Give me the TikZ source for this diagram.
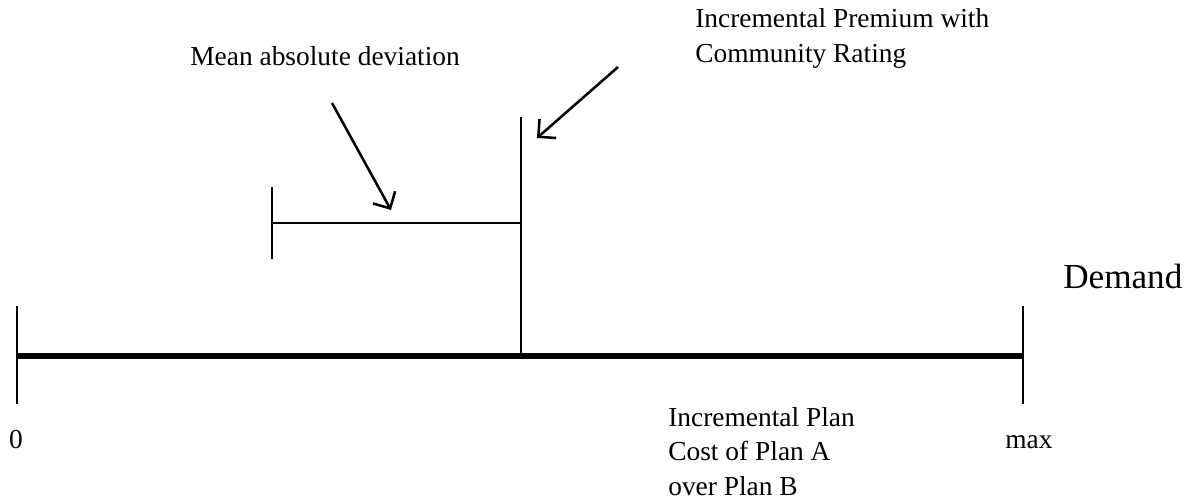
\documentclass[tikz,border=0pt]{standalone}
\usepackage{fontspec}
\setmainfont{Liberation Serif}
\usepackage{tikz}
\usetikzlibrary{arrows.meta,positioning,calc}
\definecolor{ink}{RGB}{0,0,0}
\tikzset{
  lbl/.style={inner sep=0pt,font=\fontsize{19.5}{24.5}\selectfont,align=left,text=ink},
  biglbl/.style={inner sep=0pt,font=\fontsize{25}{30}\selectfont,text=ink},
  axisline/.style={line width=3.6pt,ink},
  tickline/.style={line width=1.5pt,ink},
  ptr/.style={-{Straight Barb[length=9pt,width=18pt,line width=1.8pt]},line width=1.8pt,ink},
}

\begin{document}
\begin{tikzpicture}[x=0.025cm,y=-0.025cm]
  \useasboundingbox (0,0) rectangle (1201,500);
  % demand axis
  \coordinate (zero) at (17,356);
  \coordinate (top) at (1023,356);
  \coordinate (prem) at (521,356);
  \coordinate (premtop) at (521,117);
  \draw[axisline] (zero) -- (top);
  \draw[tickline] ($(zero)+(0,-50)$) -- ($(zero)+(0,48)$);
  \draw[tickline] ($(top)+(0,-50)$) -- ($(top)+(0,48)$);
  \draw[line width=2pt,ink] (prem) -- (premtop);
  \node[lbl,anchor=base] (lo) at (16,448) {0};
  \node[lbl,anchor=base] (hi) at (1029,448) {max};
  \node[biglbl,anchor=base west] (dem) at (1063,288) {Demand};
  % deviation bar
  \coordinate (devend) at (272,223);
  \coordinate (devmid) at (521,223);
  \draw[tickline] (devend) -- (devmid);
  \draw[tickline] ($(devend)+(0,-36)$) -- ($(devend)+(0,36)$);
  % labels and pointers
  \node[lbl,anchor=base west] (mad) at (190,65) {Mean absolute deviation};
  \node[lbl,anchor=base west] (cr) at (695,62) {Incremental Premium with\\Community Rating};
  \node[lbl,anchor=base west] (cost) at (668,495) {Incremental Plan\\Cost of Plan A\\over Plan B};
  \coordinate (madtail) at (332,103);
  \coordinate (madtip) at (391,210);
  \coordinate (crtail) at (618,67);
  \coordinate (crtip) at (537,138);
  \draw[ptr] (madtail) -- (madtip);
  \draw[ptr] (crtail) -- (crtip);
\end{tikzpicture}
\end{document}
